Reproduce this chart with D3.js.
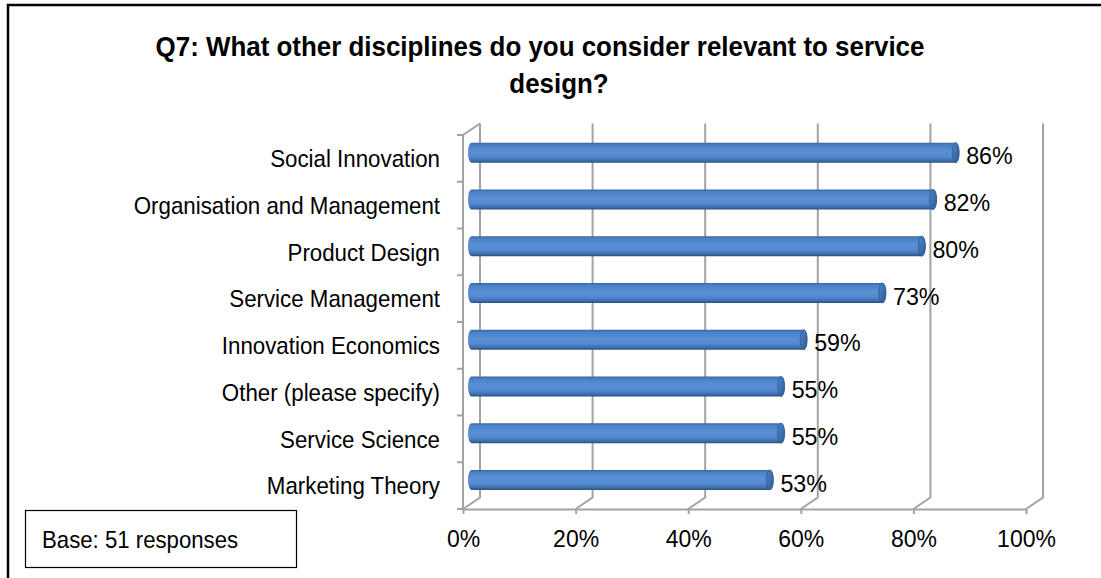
<!DOCTYPE html>
<html>
<head>
<meta charset="utf-8">
<script src="https://cdn.jsdelivr.net/npm/d3@7"></script>
<style>
  html, body { margin: 0; padding: 0; background: #fff; }
  svg { display: block; }
  text { font-family: "Liberation Sans", Arial, sans-serif; fill: #000; }
</style>
</head>
<body>
<svg id="chart" width="1101" height="578"></svg>
<script>
// Survey answers, top to bottom
const categories = [
  "Social Innovation",
  "Organisation and Management",
  "Product Design",
  "Service Management",
  "Innovation Economics",
  "Other (please specify)",
  "Service Science",
  "Marketing Theory"
];
const shares = [0.86, 0.82, 0.80, 0.73, 0.59, 0.55, 0.55, 0.53];
const axisTicks = [0, 0.2, 0.4, 0.6, 0.8, 1.0];
const titleLines = ["Q7: What other disciplines do you consider relevant to service", "design?"];
const baseNote = "Base: 51 responses";

const svg = d3.select("#chart");
const W = 1101, H = 578;

// Plot frame (front plane) and the 3-D depth offset of the back wall
const front = { left: 463, right: 1026, top: 135, bottom: 509 };
const depth = { dx: 17, dy: -11.5 };
const gridColor = "#a3a3a3";

const x = d3.scaleLinear().domain([0, 1]).range([front.left, front.right]);
const y = d3.scaleBand().domain(categories).range([front.top, front.bottom]);
const barH = 20;

// Outer frame
svg.append("path")
  .attr("d", `M8,${H + 5} V5 H${W + 5}`)
  .attr("fill", "none").attr("stroke", "#000").attr("stroke-width", 2.5);

// Gradient for the cylinder bodies
const defs = svg.append("defs");
const grad = defs.append("linearGradient").attr("id", "cyl")
  .attr("x1", 0).attr("y1", 0).attr("x2", 0).attr("y2", 1);
[[0, "#36659f"], [0.12, "#4a80c6"], [0.45, "#5990d6"], [0.7, "#5589cf"], [0.88, "#3f70b0"], [1, "#2b5283"]]
  .forEach(([o, c]) => grad.append("stop").attr("offset", o).attr("stop-color", c));
const capGrad = defs.append("linearGradient").attr("id", "cap")
  .attr("x1", 0).attr("y1", 0).attr("x2", 1).attr("y2", 1);
[[0, "#4f86cc"], [1, "#2e5a93"]]
  .forEach(([o, c]) => capGrad.append("stop").attr("offset", o).attr("stop-color", c));

// Title
svg.append("g").selectAll("text").data(titleLines).join("text")
  .attr("transform", (d, i) => `translate(${i === 0 ? 540 : 559},${i === 0 ? 56 : 93}) scale(0.96,1)`)
  .attr("text-anchor", "middle")
  .attr("font-size", 27).attr("font-weight", "bold")
  .text(d => d);

// Gridlines: back-wall verticals that fold forward along the floor
const grid = svg.append("g").attr("fill", "none").attr("stroke", gridColor).attr("stroke-width", 2);
grid.selectAll("path.v").data(axisTicks).join("path").attr("class", "v")
  .attr("d", t => `M${x(t) + depth.dx},${front.top + depth.dy} V${front.bottom + depth.dy} L${x(t)},${front.bottom}`);

// Left wall: front edge, top fold and category separators
grid.append("path")
  .attr("d", `M${front.left - 6},${front.top} H${front.left} L${front.left + depth.dx},${front.top + depth.dy}`);
grid.append("path")
  .attr("d", `M${front.left},${front.top} V${front.bottom}`);
const bounds = categories.map(c => y(c)).concat([front.bottom]);
grid.selectAll("path.sep").data(bounds).join("path").attr("class", "sep")
  .attr("d", b => `M${front.left - 6},${b} H${front.left}`);

// Bottom axis along the front of the floor
const xAxis = d3.axisBottom(x).tickValues(axisTicks).tickFormat(d3.format(".0%"))
  .tickSize(5).tickSizeOuter(0).tickPadding(17);
const xg = svg.append("g").attr("transform", `translate(0,${front.bottom})`).call(xAxis);
xg.select(".domain").attr("stroke", gridColor).attr("stroke-width", 2);
xg.selectAll(".tick line").attr("stroke", gridColor).attr("stroke-width", 2);
xg.selectAll(".tick text").attr("font-size", 23).attr("fill", "#000")
  .attr("font-family", "'Liberation Sans', Arial, sans-serif").attr("dy", "0.71em");

// Category labels
svg.append("g").selectAll("text").data(categories).join("text")
  .attr("transform", c => `translate(440,${y(c) + y.bandwidth() / 2}) scale(0.93,1)`)
  .attr("text-anchor", "end").attr("dy", "0.36em")
  .attr("font-size", 24)
  .text(c => c);

// Cylinders sit half way into the depth
const bars = svg.append("g").selectAll("g").data(categories).join("g")
  .attr("transform", (c, i) => `translate(${depth.dx / 2},${y(c) + y.bandwidth() / 2 + depth.dy / 2})`);
const rx = 3.5;
bars.append("path")
  .attr("d", (c, i) => {
    const x0 = x(0), x1 = x(shares[i]), r = barH / 2;
    return `M${x0},${-r} H${x1} A${rx},${r} 0 0 1 ${x1},${r} H${x0} A${rx},${r} 0 0 1 ${x0},${-r} Z`;
  })
  .attr("fill", "url(#cyl)");
bars.append("ellipse")
  .attr("cx", (c, i) => x(shares[i])).attr("cy", 0)
  .attr("rx", rx).attr("ry", barH / 2)
  .attr("fill", "url(#cap)").attr("stroke", "#2d588f").attr("stroke-width", 0.8);

// Value labels
bars.append("text")
  .attr("transform", (c, i) => `translate(${x(shares[i]) + rx + 7},3) scale(0.97,1)`)
  .attr("dy", "0.36em")
  .attr("font-size", 24)
  .text((c, i) => d3.format(".0%")(shares[i]));

// Base note box
svg.append("rect").attr("x", 25.5).attr("y", 510.5).attr("width", 271).attr("height", 57)
  .attr("fill", "#fff").attr("stroke", "#000").attr("stroke-width", 1.2);
svg.append("text")
  .attr("transform", "translate(42,539) scale(0.925,1)")
  .attr("dy", "0.36em").attr("font-size", 24)
  .text(baseNote);
</script>
</body>
</html>
